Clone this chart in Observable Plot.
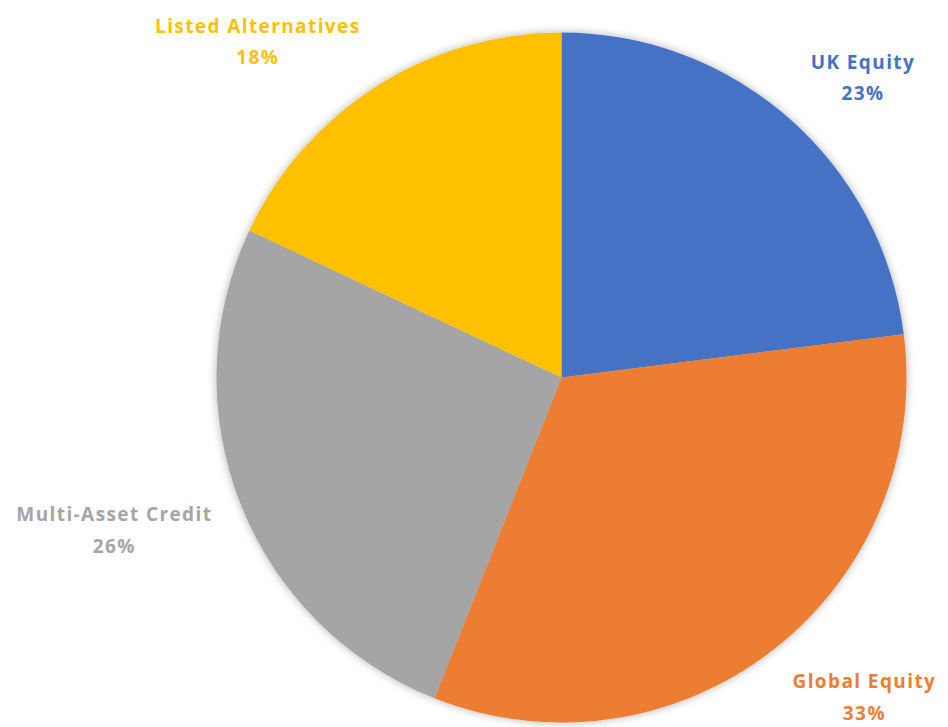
<!DOCTYPE html>
<html>
<head>
<meta charset="utf-8">
<script src="https://cdn.jsdelivr.net/npm/d3@7"></script>
<script src="https://cdn.jsdelivr.net/npm/@observablehq/plot@0.6"></script>
<style>
  html, body { margin: 0; padding: 0; background: #fff; }
  #chart svg { display: block; }
</style>
</head>
<body>
<div id="chart"></div>
<script>
// ---- data ----
const categories = ["UK Equity", "Global Equity", "Multi-Asset Credit", "Listed Alternatives"];
const values = [23, 33, 26, 18];
const pctLabels = ["23%", "33%", "26%", "18%"];
const colors = ["#4472C4", "#ED7D31", "#A5A5A5", "#FFC000"];

// ---- layout ----
const W = 948, H = 727;
const CX = 561.5, CY = 377.5, R = 345;
const FONT_SIZE = 19, LINE_H = 1.66;
const FONT = `bold ${FONT_SIZE}px 'Open Sans'`;
const LETTER = 1.4;

const color = Plot.scale({color: {type: "ordinal", domain: categories, range: colors}});

const pie = d3.pie().sort(null).value(d => d.value);
const rows = categories.map((c, i) => ({category: c, value: values[i], pct: pctLabels[i]}));
const arcs = pie(rows);

// measure text widths for label placement
const ctx = document.createElement("canvas").getContext("2d");
ctx.font = FONT;
function textW(s) { return ctx.measureText(s).width + LETTER * s.length; }

const clamp = (v, a, b) => Math.max(a, Math.min(b, v));
const lh = FONT_SIZE * LINE_H;
const labels = arcs.map(a => {
  const mid = (a.startAngle + a.endAngle) / 2;
  const s = Math.sin(mid), c = -Math.cos(mid);
  const px = CX + R * 1.09 * s, py = CY + R * 1.09 * c;
  const w = Math.max(textW(a.data.category), textW(a.data.pct));
  const h = lh * 1.4;
  let x = px + (w / 2) * clamp(2 * s, -1, 1);
  let y = py + (h / 2) * clamp(1.3 * c, -1, 1);
  x = clamp(x, w / 2 + 2, W - w / 2 - 2);
  y = clamp(y, lh / 2 + FONT_SIZE * 0.4, H - lh / 2 - FONT_SIZE * 0.32 - 12);
  return {x, y, text: a.data.category + "\n" + a.data.pct, category: a.data.category};
});

function pieMark(index, scales, values, dimensions) {
  const g = d3.create("svg:g");
  const defs = g.append("defs");
  const f = defs.append("filter").attr("id", "pieglow")
    .attr("x", "-10%").attr("y", "-10%").attr("width", "120%").attr("height", "120%");
  f.append("feDropShadow").attr("dx", 0).attr("dy", 0).attr("stdDeviation", 4)
    .attr("flood-color", "#000").attr("flood-opacity", 0.3);
  const cx = scales.x(CX), cy = scales.y(CY);
  const arc = d3.arc().innerRadius(0).outerRadius(R);
  const pg = g.append("g").attr("transform", `translate(${cx},${cy})`).attr("filter", "url(#pieglow)");
  pg.selectAll("path").data(arcs).join("path")
    .attr("d", arc)
    .attr("fill", d => color.apply(d.data.category));
  return g.node();
}

const chart = Plot.plot({
  width: W,
  height: H,
  margin: 0,
  x: {domain: [0, W], range: [0, W], axis: null},
  y: {domain: [0, H], range: [0, H], axis: null},
  style: {letterSpacing: LETTER + "px", background: "#fff"},
  marks: [
    pieMark,
    Plot.text(labels, {
      x: "x", y: "y", text: "text",
      fill: d => color.apply(d.category),
      fontSize: FONT_SIZE,
      fontWeight: "bold",
      fontFamily: "'Open Sans'",
      lineHeight: LINE_H,
      lineAnchor: "middle",
      textAnchor: "middle"
    })
  ]
});
document.getElementById("chart").appendChild(chart);
</script>
</body>
</html>
